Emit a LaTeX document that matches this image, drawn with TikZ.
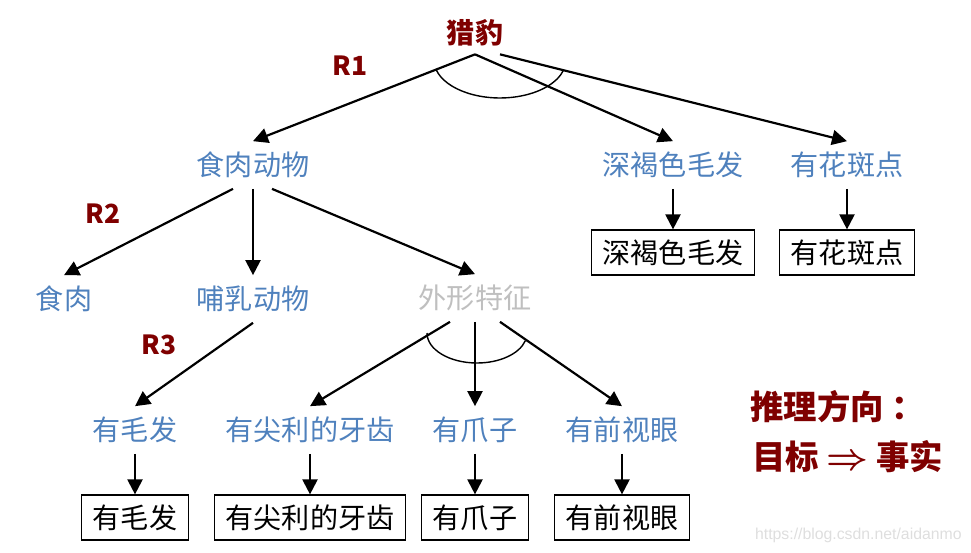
\documentclass[tikz,border=0pt]{standalone}
\usepackage{fontspec}
\setmainfont{Noto Sans CJK SC}
\newfontfamily\markfont{Liberation Sans}
\usetikzlibrary{arrows.meta}
\definecolor{darkred}{RGB}{127,0,0}
\definecolor{factblue}{RGB}{79,129,189}
\definecolor{featgray}{RGB}{191,191,191}
\definecolor{markgray}{RGB}{222,222,222}

\begin{document}
\begin{tikzpicture}[x = 0.02cm, y = -0.02cm,
  factlabel/.style = {text=factblue, font=\fontsize{16}{19}\selectfont, inner xsep=0pt, minimum height=0.94cm},
  factbox/.style = {draw, line width=0.7pt, font=\fontsize{16}{19}\selectfont, inner xsep=0.22cm, inner ysep=0pt, minimum height=0.9cm},
  rulelab/.style = {text=darkred, font=\fontsize{15}{18}\selectfont\bfseries},
  dirtext/.style = {text=darkred, font=\fontsize{19}{23}\selectfont\bfseries, inner sep=0pt, anchor=west},
  arr/.style = {line width=1.25pt, -{Triangle[length=0.3cm, width=0.3cm]}},
  andarc/.style = {line width=0.8pt}]

  \useasboundingbox (0,0) rectangle (971,552);

  % goal
  \node[text=darkred, font=\fontsize{16}{19}\selectfont\bfseries, inner xsep=0pt, minimum height=0.84cm] (leopard) at (475,33) {猎豹};
  \node[rulelab] (r1) at (350,66) {R1};

  \node[factlabel] (carn) at (253,165) {食肉动物};
  \node[factlabel] (brown) at (673,165) {深褐色毛发};
  \node[factlabel] (spots) at (847,165) {有花斑点};

  \draw[arr] (leopard.south) -- (carn.north);
  \draw[arr] (leopard.south) -- (brown.north);
  \draw[arr] ([xshift=0.5cm]leopard.south) -- (spots.north);
  \draw[andarc] (436.3,70) arc[start angle=195.3, end angle=344.7, x radius=1.32cm, y radius=0.76cm];

  \node[factbox] (brownbox) at (673,252.5) {深褐色毛发};
  \node[factbox] (spotbox) at (847,252.5) {有花斑点};
  \draw[arr] (brown.south) -- (brownbox.north);
  \draw[arr] (spots.south) -- (spotbox.north);

  % second level
  \node[rulelab] (r2) at (103,214) {R2};
  \node[factlabel] (meat) at (64,299) {食肉};
  \node[factlabel] (mammal) at (253,299) {哺乳动物};
  \node[factlabel, text=featgray] (looks) at (475,298) {外形特征};

  \draw[arr] ([xshift=-0.4cm]carn.south) -- (meat.north);
  \draw[arr] (carn.south) -- (mammal.north);
  \draw[arr] ([xshift=0.38cm]carn.south) -- (looks.north);

  % third level
  \node[rulelab] (r3) at (159,345) {R3};
  \node[factlabel] (hair) at (135,430) {有毛发};
  \node[factlabel] (teeth) at (310,430) {有尖利的牙齿};
  \node[factlabel] (claws) at (475,430) {有爪子};
  \node[factlabel] (eyes) at (622,430) {有前视眼};

  \draw[arr] (mammal.south) -- (hair.north);
  \draw[arr] ([xshift=-0.5cm]looks.south) -- (teeth.north);
  \draw[arr] (looks.south) -- (claws.north);
  \draw[arr] ([xshift=0.5cm]looks.south) -- (eyes.north);
  \draw[andarc] (427,333) arc[start angle=180, end angle=345, x radius=1cm, y radius=0.6cm];

  \node[factbox] (hairbox) at (135,517.5) {有毛发};
  \node[factbox] (teethbox) at (310,517.5) {有尖利的牙齿};
  \node[factbox] (clawsbox) at (475,517.5) {有爪子};
  \node[factbox] (eyesbox) at (622,517.5) {有前视眼};
  \draw[arr] (hair.south) -- (hairbox.north);
  \draw[arr] (teeth.south) -- (teethbox.north);
  \draw[arr] (claws.south) -- (clawsbox.north);
  \draw[arr] (eyes.south) -- (eyesbox.north);

  % direction
  \node[dirtext] (dira) at (750,407) {推理方向\kern0.15cm：};
  \node[dirtext] (dirb) at (752,457) {目标 {\fontsize{20}{20}\selectfont\boldmath$\Rightarrow$} 事实};

  \node[text=markgray, font=\markfont\fontsize{9}{11}\selectfont, anchor=east, inner sep=0pt] (mark) at (962,535) {https://blog.csdn.net/aidanmo};

\end{tikzpicture}
\end{document}
